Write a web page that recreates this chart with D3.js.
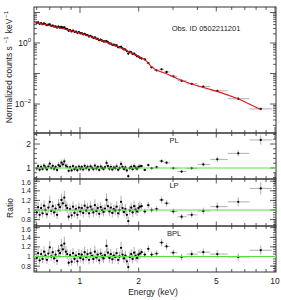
<!DOCTYPE html>
<html>
<head>
<meta charset="utf-8">
<script src="https://cdn.jsdelivr.net/npm/d3@7"></script>
<style>
body { margin: 0; background: #fff; }
svg { display: block; }
text { font-family: "Liberation Sans", Arial, sans-serif; fill: #222; }
</style>
</head>
<body>
<svg id="chart" width="281" height="300"></svg>
<script>
// Data
var energy = [
	0.600, 0.610, 0.621, 0.632, 0.643, 0.654, 0.665, 0.677, 0.688, 0.700,
	0.712, 0.725, 0.737, 0.750, 0.763, 0.776, 0.790, 0.803, 0.817, 0.831,
	0.846, 0.860, 0.875, 0.890, 0.906, 0.921, 0.937, 0.954, 0.970, 0.987,
	1.004, 1.021, 1.039, 1.057, 1.075, 1.094, 1.113, 1.132, 1.152, 1.172,
	1.192, 1.213, 1.234, 1.255, 1.277, 1.299, 1.321, 1.344, 1.368, 1.391,
	1.415, 1.440, 1.465, 1.490, 1.516, 1.542, 1.569, 1.596, 1.624, 1.652,
	1.681, 1.710, 1.739, 1.769, 1.800, 1.831, 1.863, 1.895, 1.928, 1.961,
	1.995, 2.030,
	2.07, 2.15, 2.24, 2.33, 2.47, 2.62, 2.78, 3.01, 3.32, 3.74, 4.29, 5.06, 6.48, 8.45
];
var counts = [
	4.55, 4.75, 4.25, 4.45, 4.15, 4.35, 4.10, 3.85, 3.98, 4.05,
	3.66, 3.72, 3.46, 3.48, 3.20, 3.42, 3.22, 3.35, 3.18, 3.25,
	2.96, 2.82, 2.52, 2.64, 2.40, 2.55, 2.33, 2.35, 2.16, 2.27,
	2.09, 2.09, 1.92, 1.99, 1.83, 1.81, 1.64, 1.70, 1.58, 1.47,
	1.53, 1.39, 1.37, 1.24, 1.28, 1.19, 1.13, 1.12, 1.16, 1.06,
	0.97, 0.96, 0.87, 0.88, 0.83, 0.83, 0.73, 0.73, 0.75, 0.67,
	0.62, 0.61, 0.54, 0.45, 0.51, 0.49, 0.44, 0.45, 0.41, 0.37,
	0.36, 0.33,
	0.31, 0.29, 0.22, 0.16, 0.127, 0.137, 0.112, 0.081, 0.058, 0.046, 0.037, 0.027, 0.0149, 0.0069
];
var ratioPL = [
	0.98, 1.08, 0.93, 1.05, 0.96, 1.10, 1.02, 0.94, 1.06, 1.18,
	1.00, 1.09, 0.97, 1.04, 0.92, 1.12, 1.07, 1.22, 1.15, 1.27,
	1.10, 1.05, 0.88, 1.03, 0.90, 1.08, 0.95, 1.02, 0.91, 1.06,
	0.97, 1.04, 0.94, 1.09, 0.99, 1.05, 0.93, 1.07, 1.01, 0.95,
	1.10, 0.98, 1.04, 0.92, 1.06, 1.00, 0.96, 1.03, 1.21, 1.08,
	0.97, 1.05, 0.94, 1.02, 0.99, 1.07, 0.93, 1.00, 1.17, 1.04,
	0.96, 1.02, 0.90, 0.66, 0.99, 1.05, 0.95, 1.08, 1.01, 0.97,
	1.04, 1.07,
	1.08, 0.92, 1.12, 0.99, 1.03, 1.29, 1.22, 0.99, 0.85, 0.99, 1.15, 1.36, 1.61, 2.17
];
var ratioLP = [
	0.95, 1.06, 0.90, 1.04, 0.93, 1.09, 1.00, 0.91, 1.05, 1.17,
	0.98, 1.08, 0.95, 1.03, 0.90, 1.11, 1.06, 1.21, 1.14, 1.26,
	1.09, 1.04, 0.86, 1.02, 0.89, 1.07, 0.94, 1.02, 0.90, 1.05,
	0.97, 1.04, 0.94, 1.09, 0.99, 1.05, 0.93, 1.07, 1.01, 0.95,
	1.10, 0.98, 1.04, 0.92, 1.06, 1.00, 0.96, 1.03, 1.21, 1.08,
	0.97, 1.05, 0.94, 1.02, 0.99, 1.07, 0.93, 1.00, 1.17, 1.04,
	0.96, 1.02, 0.90, 0.77, 0.99, 1.05, 0.95, 1.08, 1.01, 0.97,
	1.04, 1.07,
	1.08, 0.97, 1.10, 1.00, 1.02, 1.21, 1.14, 0.97, 0.86, 0.90, 0.98, 1.07, 1.17, 1.45
];
var ratioBPL = [
	0.97, 1.07, 0.92, 1.05, 0.95, 1.10, 1.02, 0.93, 1.06, 1.19,
	1.00, 1.09, 0.96, 1.04, 0.91, 1.12, 1.07, 1.23, 1.15, 1.27,
	1.10, 1.05, 0.87, 1.03, 0.89, 1.07, 0.95, 1.02, 0.90, 1.05,
	0.97, 1.04, 0.94, 1.09, 0.99, 1.05, 0.93, 1.07, 1.01, 0.95,
	1.10, 0.98, 1.04, 0.92, 1.06, 1.00, 0.96, 1.03, 1.22, 1.08,
	0.97, 1.05, 0.94, 1.02, 0.99, 1.07, 0.93, 1.00, 1.18, 1.04,
	0.96, 1.02, 0.90, 0.78, 0.99, 1.05, 0.95, 1.08, 1.01, 0.97,
	1.04, 1.06,
	1.09, 1.04, 1.16, 1.04, 1.06, 1.29, 1.21, 1.08, 0.99, 1.05, 1.09, 1.05, 0.99, 1.13
];
var relErr = [
	0.09, 0.10, 0.09, 0.10, 0.09, 0.10, 0.10, 0.09, 0.10, 0.11,
	0.09, 0.10, 0.10, 0.09, 0.10, 0.11, 0.10, 0.11, 0.10, 0.11,
	0.10, 0.10, 0.09, 0.10, 0.09, 0.10, 0.10, 0.09, 0.10, 0.10,
	0.10, 0.09, 0.10, 0.10, 0.09, 0.10, 0.10, 0.10, 0.09, 0.10,
	0.11, 0.10, 0.10, 0.09, 0.10, 0.10, 0.10, 0.09, 0.11, 0.10,
	0.10, 0.10, 0.10, 0.09, 0.10, 0.10, 0.10, 0.10, 0.11, 0.10,
	0.10, 0.10, 0.10, 0.12, 0.10, 0.10, 0.10, 0.11, 0.10, 0.10,
	0.10, 0.10,
	0.06, 0.06, 0.06, 0.06, 0.06, 0.06, 0.06, 0.06, 0.07, 0.07, 0.07, 0.08, 0.08, 0.09
];
var modelE = [0.59, 0.62, 0.70, 0.79, 0.89, 1.0, 1.13, 1.27, 1.43, 1.60, 1.80, 2.03, 2.12, 2.20, 2.33, 2.47, 2.62, 2.78, 3.01, 3.32, 3.74, 4.29, 5.06, 6.48, 8.45];
var modelBPL = [4.65, 4.40, 3.75, 3.10, 2.57, 2.13, 1.63, 1.25, 0.96, 0.71, 0.51, 0.34, 0.30, 0.25, 0.165, 0.128, 0.112, 0.098, 0.079, 0.059, 0.045, 0.035, 0.026, 0.0148, 0.0066];

var xTickLabels = [1, 2, 5, 10];
var mainDecadeLabels = [0, -2];
var plTickLabels = [1, 2];
var lpTickLabels = [0.8, 1, 1.2, 1.4, 1.6];
var panelNames = ["PL", "LP", "BPL"];
var obsLabel = "Obs. ID 0502211201";

// Layout
var left = 34, right = 276;
var svg = d3.select("#chart");

var x = d3.scaleLog().domain([0.581, 10.12]).range([left, right]);
var yMain = d3.scaleLog().domain([Math.pow(10, -2.95), Math.pow(10, 1.18)]).range([133, 7]);
var yPL = d3.scaleLinear().domain([0.54, 2.46]).range([179, 133]);
var yLP = d3.scaleLinear().domain([0.667, 1.646]).range([226, 179]);
var yBPL = d3.scaleLinear().domain([0.677, 1.635]).range([272, 226]);

var frameColor = "#333";
var errColor = "#9a9a9a";

// half-widths of the bins, from neighbour energies
function binLo(i) {
	if (i > 0) return Math.sqrt(energy[i - 1] * energy[i]);
	return energy[i] * energy[i] / Math.sqrt(energy[i] * energy[i + 1]);
}
function binHi(i) {
	if (i < energy.length - 1) return Math.sqrt(energy[i] * energy[i + 1]);
	return energy[i] * energy[i] / Math.sqrt(energy[i - 1] * energy[i]);
}

var xMajor = [1, 10];
var xMid = [2, 5];
var xMinor = [0.6, 0.7, 0.8, 0.9, 3, 4, 6, 7, 8, 9];

function line(g, x1, y1, x2, y2, color, w) {
	g.append("line")
		.attr("x1", x1).attr("y1", y1).attr("x2", x2).attr("y2", y2)
		.attr("stroke", color).attr("stroke-width", w);
}

function drawFrame(yScale, yMajor, yMinor) {
	var g = svg.append("g");
	var top = yScale.range()[1], bottom = yScale.range()[0];
	g.append("rect")
		.attr("x", left).attr("y", top)
		.attr("width", right - left).attr("height", bottom - top)
		.attr("fill", "none").attr("stroke", frameColor).attr("stroke-width", 1);
	function xt(vals, len) {
		vals.forEach(function(v) {
			var px = x(v);
			line(g, px, top, px, top + len, frameColor, 0.8);
			line(g, px, bottom, px, bottom - len, frameColor, 0.8);
		});
	}
	xt(xMajor, 6); xt(xMid, 4.5); xt(xMinor, 3);
	function yt(vals, len) {
		vals.forEach(function(v) {
			var py = yScale(v);
			if (py < top - 0.1 || py > bottom + 0.1) return;
			line(g, left, py, left + len, py, frameColor, 0.8);
			line(g, right, py, right - len, py, frameColor, 0.8);
		});
	}
	yt(yMajor, 6); yt(yMinor, 3);
}

// Main panel ticks
var mainMajor = [0.001, 0.01, 0.1, 1, 10];
var mainMinor = [];
mainMajor.forEach(function(d) {
	for (var k = 2; k <= 9; k++) mainMinor.push(d * k);
});
drawFrame(yMain, mainMajor, mainMinor);
drawFrame(yPL, [1, 2], [0.6, 0.8, 1.2, 1.4, 1.6, 1.8, 2.2, 2.4]);
var lpMinor = [];
for (var v = 0.70; v <= 1.65; v += 0.05) lpMinor.push(+v.toFixed(2));
drawFrame(yLP, lpTickLabels, lpMinor);
drawFrame(yBPL, lpTickLabels, lpMinor);

// Error bars and points
function drawPoints(yScale, vals) {
	var g = svg.append("g");
	g.selectAll("line.h").data(vals).enter().append("line")
		.attr("x1", function(d, i) { return x(binLo(i)); })
		.attr("x2", function(d, i) { return x(binHi(i)); })
		.attr("y1", function(d) { return yScale(d); })
		.attr("y2", function(d) { return yScale(d); })
		.attr("stroke", errColor).attr("stroke-width", 0.8);
	g.selectAll("line.v").data(vals).enter().append("line")
		.attr("x1", function(d, i) { return x(energy[i]); })
		.attr("x2", function(d, i) { return x(energy[i]); })
		.attr("y1", function(d, i) { return yScale(d * (1 - relErr[i])); })
		.attr("y2", function(d, i) { return yScale(d * (1 + relErr[i])); })
		.attr("stroke", errColor).attr("stroke-width", 0.8);
	g.selectAll("circle").data(vals).enter().append("circle")
		.attr("cx", function(d, i) { return x(energy[i]); })
		.attr("cy", function(d) { return yScale(d); })
		.attr("r", 1.15)
		.attr("fill", "#000");
}

drawPoints(yMain, counts);
drawPoints(yPL, ratioPL);
drawPoints(yLP, ratioLP);
drawPoints(yBPL, ratioBPL);

// Model line
svg.append("path")
	.datum(modelE)
	.attr("fill", "none")
	.attr("stroke", "#e8101a")
	.attr("stroke-width", 1.1)
	.attr("d", d3.line()
		.x(function(d) { return x(d); })
		.y(function(d, i) { return yMain(modelBPL[i]); }));

// Unity lines
[yPL, yLP, yBPL].forEach(function(s) {
	line(svg, left, s(1), right, s(1), "#5ddc4a", 1.1);
});

// Tick labels
var lab = svg.append("g").attr("font-size", 8.5);
xTickLabels.forEach(function(v) {
	lab.append("text").attr("x", x(v)).attr("y", 284)
		.attr("text-anchor", "middle").text(v);
});
mainDecadeLabels.forEach(function(p) {
	var t = lab.append("text").attr("x", 31).attr("y", yMain(Math.pow(10, p)) + 3)
		.attr("text-anchor", "end");
	t.append("tspan").text("10");
	t.append("tspan").attr("dy", -4).attr("font-size", 6).text(p === 0 ? "0" : "\u2212" + (-p));
});
plTickLabels.forEach(function(v) {
	lab.append("text").attr("x", 31).attr("y", yPL(v) + 3).attr("text-anchor", "end").text(v);
});
// top label of a ratio panel is kept clear of the panel edge
[yLP, yBPL].forEach(function(s) {
	var top = s.range()[1];
	lpTickLabels.forEach(function(v) {
		var cy = Math.max(s(v), top + 3.3);
		lab.append("text").attr("x", 31).attr("y", cy + 2.5)
			.attr("text-anchor", "end").attr("font-size", 7).text(v);
	});
});

// Panel names and annotation
var nameY = [143, 188, 235.5];
panelNames.forEach(function(n, i) {
	svg.append("text").attr("x", 174).attr("y", nameY[i])
		.attr("text-anchor", "middle").attr("font-size", 7.5).text(n);
});
svg.append("text").attr("x", 206).attr("y", 31)
	.attr("text-anchor", "middle").attr("font-size", 7.5).text(obsLabel);

// Axis titles
svg.append("text").attr("x", 153).attr("y", 295)
	.attr("text-anchor", "middle").attr("font-size", 8.5).text("Energy (keV)");
svg.append("text").attr("transform", "translate(13,208) rotate(-90)")
	.attr("text-anchor", "middle").attr("font-size", 8.5).text("Ratio");
var yl = svg.append("text").attr("transform", "translate(12,67) rotate(-90)")
	.attr("text-anchor", "middle").attr("font-size", 8.5);
yl.append("tspan").text("Normalized counts s");
yl.append("tspan").attr("dy", -4).attr("dx", 3).attr("font-size", 6).text("\u22121");
yl.append("tspan").attr("dy", 4).attr("dx", 3).text("keV");
yl.append("tspan").attr("dy", -4).attr("dx", 1).attr("font-size", 6).text("\u22121");
</script>
</body>
</html>
